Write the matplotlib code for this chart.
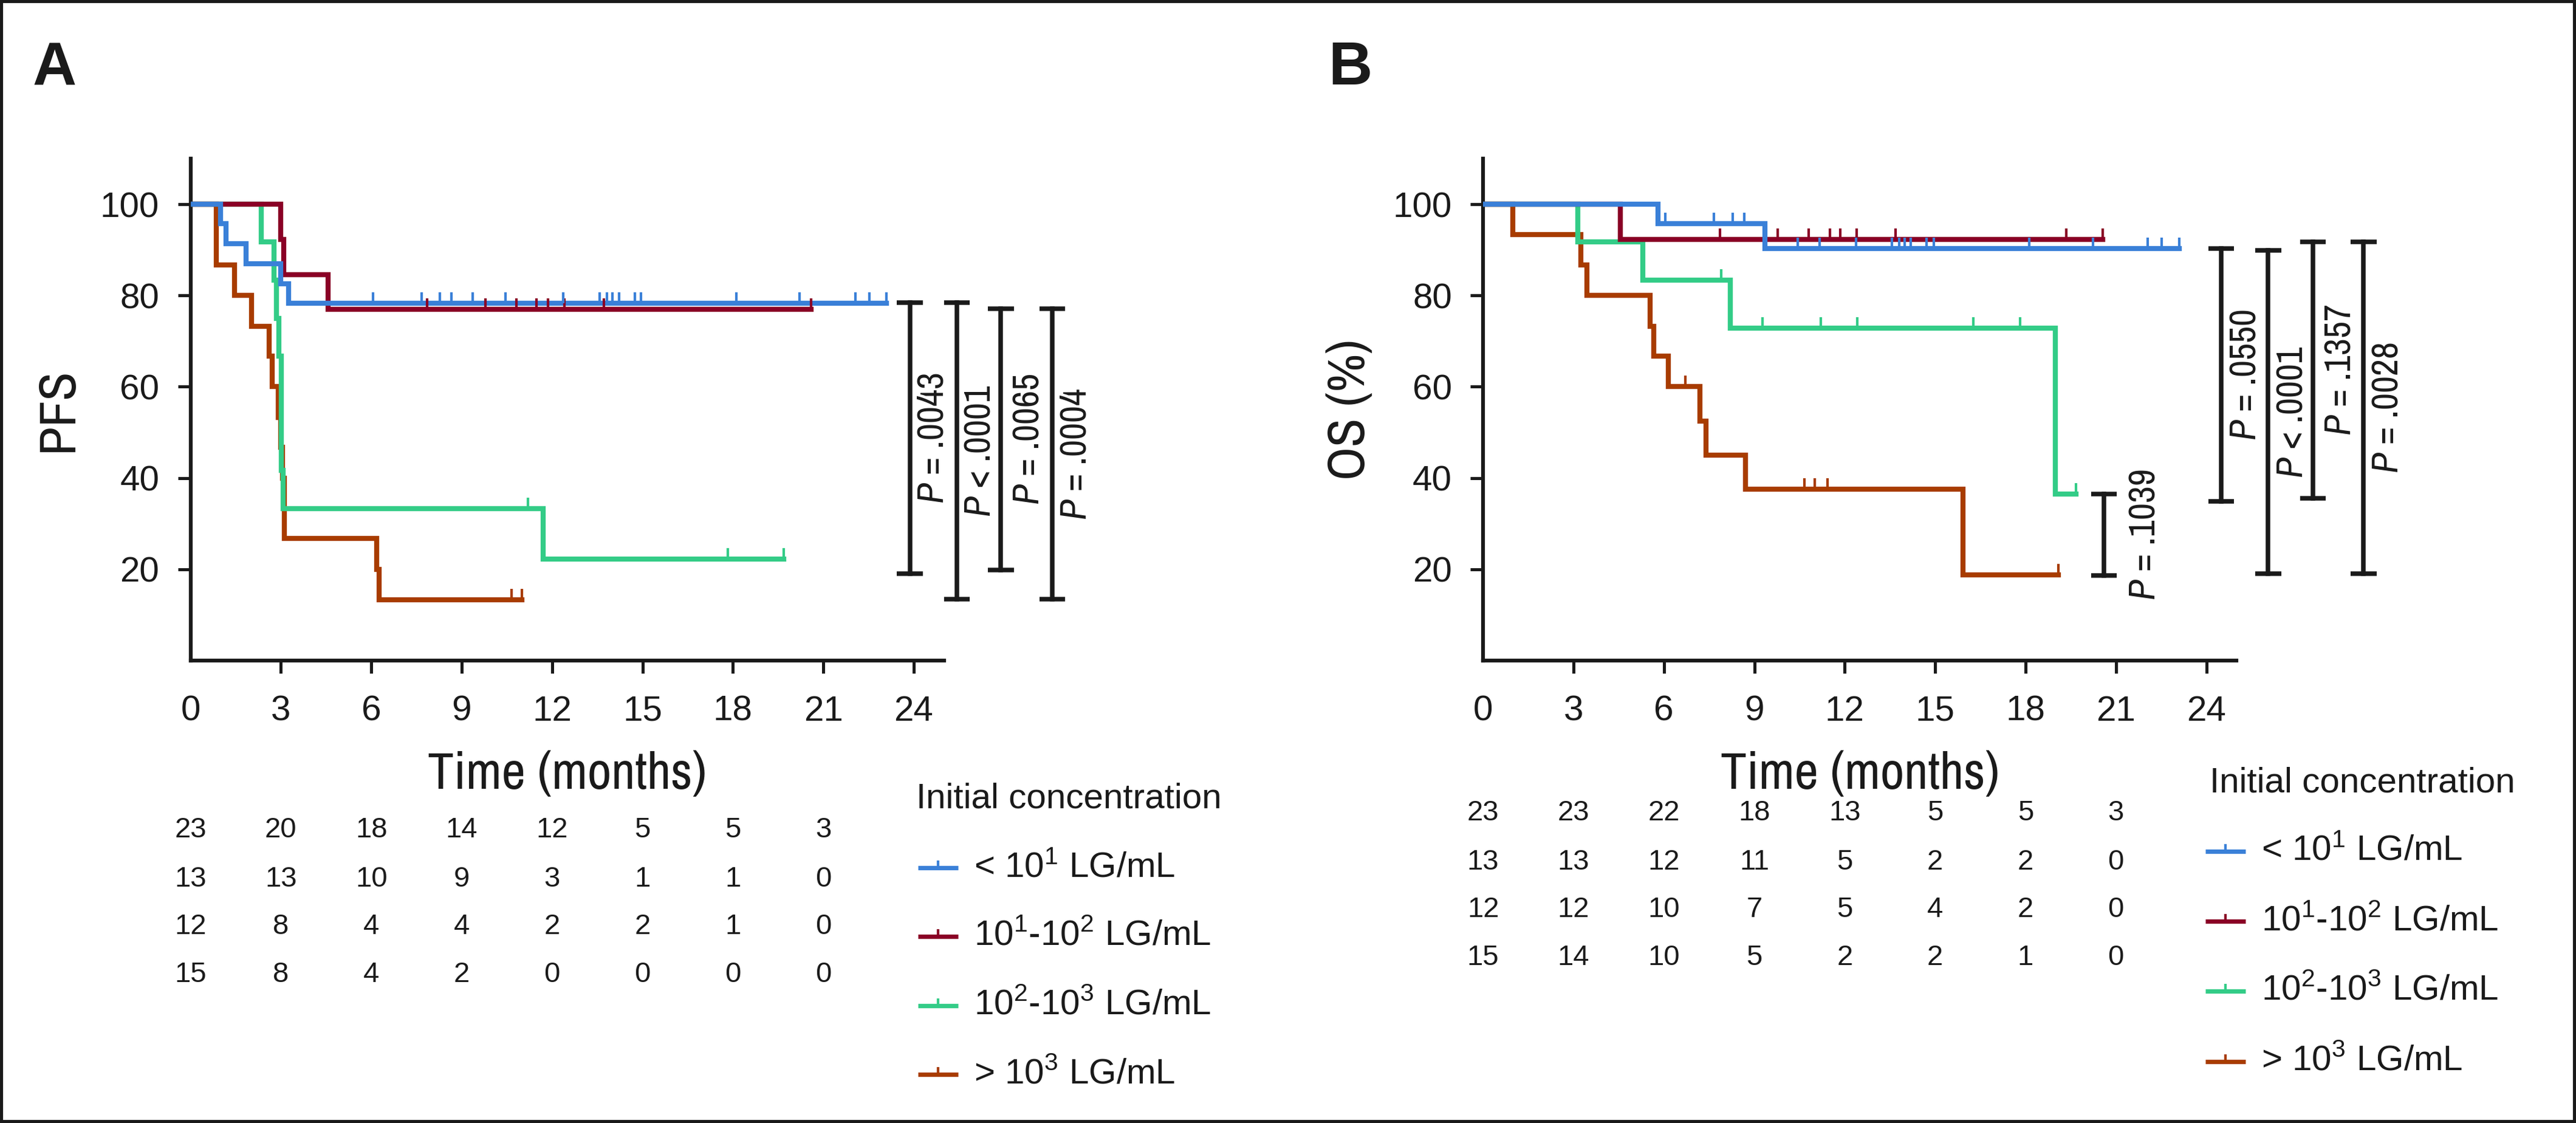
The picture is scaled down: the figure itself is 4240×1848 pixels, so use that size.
import numpy as np
import matplotlib
matplotlib.use("Agg")
import matplotlib.pyplot as plt
from matplotlib.lines import Line2D
from matplotlib.patches import Rectangle

plt.rcParams['font.family'] = ['Liberation Sans', 'DejaVu Sans']
plt.rcParams['mathtext.fontset'] = 'custom'
plt.rcParams['mathtext.rm'] = 'Liberation Sans'
plt.rcParams['mathtext.it'] = 'Archivo Narrow:italic'
plt.rcParams['text.color'] = '#1a1a1a'

NARROW = ['Archivo Narrow', 'Liberation Sans', 'DejaVu Sans']
INK = '#1a1a1a'
W, H = 4240, 1848

# ---- data -------------------------------------------------------------
months = [0, 3, 6, 9, 12, 15, 18, 21, 24]
risk_months = [0, 3, 6, 9, 12, 15, 18, 21]
group_labels = ['< 10$^1$ LG/mL', '10$^1$-10$^2$ LG/mL',
                '10$^2$-10$^3$ LG/mL', '> 10$^3$ LG/mL']
group_colors = ['#3a80d8', '#8a0026', '#33cc87', '#a83c00']

# PFS (panel A): step times, survival after each step, censor times
pfs_t = [
    [0, 0.99, 1.17, 1.84, 2.99, 3.26],
    [0, 3.00, 3.10, 4.56],
    [0, 2.34, 2.77, 2.85, 2.93, 3.01, 3.08, 11.70],
    [0, 0.85, 1.46, 2.02, 2.61, 2.70, 2.92, 2.99, 3.05, 3.12, 6.18, 6.25],
]
pfs_s = [
    [100, 95.7, 91.3, 87.0, 82.6, 78.3],
    [100, 92.3, 84.6, 76.9],
    [100, 91.7, 83.3, 75.0, 66.7, 41.7, 33.3, 22.2],
    [100, 86.7, 80.0, 73.3, 66.7, 60.0, 53.3, 46.7, 40.0, 26.7, 20.0, 13.3],
]
pfs_cens = [
    [6.05, 7.67, 8.28, 8.66, 9.36, 10.46, 12.37, 13.58, 13.82, 14.01, 14.23,
     14.74, 14.95, 18.12, 20.22, 22.07, 22.52, 23.10],
    [7.85, 9.78, 10.82, 11.49, 11.87, 12.40, 13.71, 20.60],
    [11.20, 17.83, 19.69],
    [10.66, 11.00],
]

# OS (panel B)
os_t = [
    [0, 5.81, 9.36],
    [0, 4.56],
    [0, 3.14, 5.30, 8.21, 18.99],
    [0, 0.98, 3.24, 3.45, 5.55, 5.66, 6.15, 7.20, 7.39, 8.71, 15.92],
]
os_s = [
    [100, 95.7, 90.3],
    [100, 92.3],
    [100, 91.7, 83.3, 72.9, 36.5],
    [100, 93.3, 86.7, 80.0, 73.3, 66.7, 60.0, 52.5, 45.0, 37.5, 18.75],
]
os_cens = [
    [6.05, 7.66, 8.28, 8.66, 10.44, 11.16, 12.37, 13.57, 13.80, 13.98, 14.19,
     14.71, 14.96, 18.12, 20.23, 22.05, 22.52, 23.10],
    [7.85, 9.77, 10.80, 11.50, 11.86, 12.40, 13.68, 19.36, 20.57],
    [7.89, 9.28, 11.21, 12.42, 16.27, 17.82, 19.68],
    [6.71, 10.67, 11.00, 11.42, 19.09],
]

# number at risk
pfs_risk = [[23, 20, 18, 14, 12, 5, 5, 3],
            [13, 13, 10, 9, 3, 1, 1, 0],
            [12, 8, 4, 4, 2, 2, 1, 0],
            [15, 8, 4, 2, 0, 0, 0, 0]]
os_risk = [[23, 23, 22, 18, 13, 5, 5, 3],
           [13, 13, 12, 11, 5, 2, 2, 0],
           [12, 12, 10, 7, 5, 4, 2, 0],
           [15, 14, 10, 5, 2, 2, 1, 0]]

# pairwise comparisons: x (months), top, bottom, label
pfs_pvals = [(23.87, 78.4, 19.1, '$P$ = .0043'),
             (25.43, 78.4, 13.4, '$P$ < .0001'),
             (26.89, 77.1, 19.8, '$P$ = .0065'),
             (28.60, 77.1, 13.4, '$P$ = .0004')]
os_pvals = [(20.60, 36.5, 18.6, '$P$ = .1039'),
            (24.49, 90.3, 34.9, '$P$ = .0550'),
            (26.05, 89.9, 19.0, '$P$ < .0001'),
            (27.54, 91.7, 35.6, '$P$ = .1357'),
            (29.22, 91.7, 19.1, '$P$ = .0028')]


def fx(px):
    return px / W


def fy(py):
    return 1 - py / H


def draw_panel(ax, times, surv, cens, risk, pvals, ylabel, risk_y, text_gap):
    # curves, bottom to top: orange, green, red, blue
    for i in [3, 2, 1, 0]:
        end = max(cens[i]) if cens[i] else times[i][-1]
        tt = list(times[i]) + [end]
        ss = list(surv[i]) + [surv[i][-1]]
        ax.step(tt, ss, where='post', color=group_colors[i], lw=3.0,
                solid_joinstyle='miter', zorder=2 + (3 - i))
    for i in [3, 2, 1, 0]:
        idx = np.searchsorted(times[i], cens[i], side='right') - 1
        yc = np.array(surv[i])[idx]
        ax.plot(cens[i], yc, ls='none', marker=2, ms=6.5, mew=1.5,
                color=group_colors[i], zorder=8)

    ax.set_xlim(0, 25)
    ax.set_ylim(0, 110)
    ax.set_xticks(months)
    ax.set_yticks([20, 40, 60, 80, 100])
    ax.tick_params(direction='out', length=7.5, width=1.8, labelsize=21,
                   colors=INK, pad=11)
    ax.tick_params(axis='x', pad=13)
    ax.xaxis.get_major_ticks()[0].tick1line.set_visible(False)
    for s in ['top', 'right']:
        ax.spines[s].set_visible(False)
    for s in ['left', 'bottom']:
        ax.spines[s].set_linewidth(2.25)
        ax.spines[s].set_color(INK)

    ax.text(0.5, -0.18, 'Time (months)', transform=ax.transAxes,
            ha='center', va='top', fontsize=31, family=NARROW)
    ax.text(-0.176, 0.5, ylabel, transform=ax.transAxes, rotation=90,
            ha='center', va='center', fontsize=31, family=NARROW)

    # comparison brackets
    cap = 0.43
    for k, (x, top, bot, lab) in enumerate(pvals):
        ax.plot([x, x], [bot, top], color=INK, lw=2.7, clip_on=False)
        for yy in (top, bot):
            ax.plot([x - cap, x + cap], [yy, yy], color=INK, lw=2.7,
                    clip_on=False, solid_capstyle='butt')
        ax.text(x + text_gap[k], (top + bot) / 2, lab, rotation=90,
                ha='left', va='center', fontsize=22, family=NARROW,
                clip_on=False)

    # number at risk
    tr = ax.get_xaxis_transform()
    for r, row in enumerate(risk):
        for m, n in zip(risk_months, row):
            ax.text(m, risk_y[r], str(n), transform=tr, ha='center',
                    va='center', fontsize=17, clip_on=False)


def draw_legend(title_xy, handle_x, text_x, rows_y):
    fig.text(fx(title_xy[0]), fy(title_xy[1]), 'Initial concentration',
             fontsize=21, ha='left', va='baseline')
    x0, x1 = handle_x
    for lab, col, y in zip(group_labels, group_colors, rows_y):
        fig.add_artist(Line2D([fx(x0), fx(x1)], [fy(y), fy(y)],
                              transform=fig.transFigure, color=col, lw=2.6,
                              solid_capstyle='butt'))
        fig.add_artist(Line2D([fx((x0 + x1) / 2)], [fy(y)],
                              transform=fig.transFigure, color=col,
                              ls='none', marker=2, ms=4.5, mew=1.5))
        fig.text(fx(text_x), fy(y + 15), lab, fontsize=21, ha='left',
                 va='baseline')


fig = plt.figure(figsize=(21.2, 9.24), dpi=200)
axA = fig.add_axes([0.07396, 0.41179, 0.29245, 0.44703])
axB = fig.add_axes([0.57575, 0.41179, 0.29245, 0.44703])

rowsA = [-0.3377, -0.4358, -0.5302, -0.6258]
rowsB = [r + 0.034 for r in rowsA]
draw_panel(axA, pfs_t, pfs_s, pfs_cens, pfs_risk, pfs_pvals, 'PFS', rowsA,
           [0.22, 0.22, 0.36, 0.22])
draw_panel(axB, os_t, os_s, os_cens, os_risk, os_pvals, 'OS (%)', rowsB,
           [0.8, 0.25, 0.25, 0.35, 0.25])

draw_legend((1508, 1329), (1511, 1577), 1603, [1428, 1541, 1655, 1768])
draw_legend((3637, 1304), (3630, 3696), 3722, [1401, 1516, 1631, 1747])

fig.text(fx(54), fy(140), 'A', fontsize=36, fontweight='bold',
         va='baseline', ha='left')
fig.text(fx(2186), fy(139), 'B', fontsize=36, fontweight='bold',
         va='baseline', ha='left')

fig.add_artist(Rectangle((0, 0), 1, 1, transform=fig.transFigure,
                         fill=False, edgecolor=INK, lw=3.6, clip_on=False))

fig.savefig('out.png', dpi=200, facecolor='white')
